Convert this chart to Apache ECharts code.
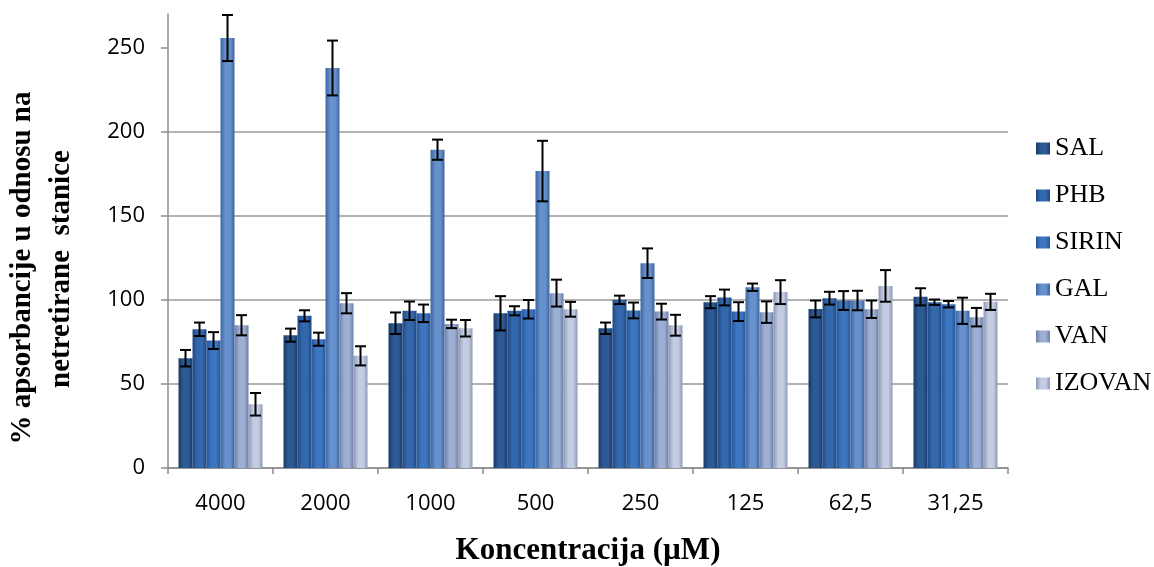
<!DOCTYPE html>
<html>
<head>
<meta charset="utf-8">
<script src="https://cdn.jsdelivr.net/npm/echarts@6/dist/echarts.min.js"></script>
<style>
  html, body { margin: 0; padding: 0; background: #fff; }
  #chart { width: 1154px; height: 567px; }
</style>
</head>
<body>
<div id="chart"></div>
<script>
var categories = ['4000', '2000', '1000', '500', '250', '125', '62,5', '31,25'];
var seriesNames = ['SAL', 'PHB', 'SIRIN', 'GAL', 'VAN', 'IZOVAN'];

var SAL    = [65.3, 79.0, 86.1, 92.0, 83.1, 98.6, 94.6, 101.8];
var PHB    = [82.5, 90.5, 93.5, 93.5, 100.0, 101.4, 101.0, 98.6];
var SIRIN  = [75.8, 76.6, 92.0, 94.4, 93.7, 93.0, 99.6, 97.4];
var GAL    = [255.7, 237.9, 189.3, 176.6, 121.8, 107.5, 99.6, 93.5];
var VAN    = [84.9, 98.0, 85.7, 104.0, 93.0, 92.7, 94.4, 89.7];
var IZOVAN = [37.9, 66.7, 83.1, 94.4, 84.9, 104.6, 108.3, 98.8];

var SAL_err    = [4.9, 3.9, 6.4, 10.2, 3.4, 3.6, 5.0, 5.1];
var PHB_err    = [4.0, 3.3, 5.5, 2.7, 2.5, 4.7, 3.8, 1.6];
var SIRIN_err  = [5.0, 3.9, 5.2, 5.5, 4.7, 5.6, 5.6, 1.9];
var GAL_err    = [13.7, 16.3, 6.0, 18.0, 8.8, 2.2, 5.8, 7.8];
var VAN_err    = [6.0, 6.0, 2.5, 8.0, 4.7, 6.4, 5.2, 5.5];
var IZOVAN_err = [6.7, 5.7, 4.9, 4.4, 6.2, 7.1, 9.4, 4.8];

var yTicks = [0, 50, 100, 150, 200, 250];

var values = [SAL, PHB, SIRIN, GAL, VAN, IZOVAN];
var errors = [SAL_err, PHB_err, SIRIN_err, GAL_err, VAN_err, IZOVAN_err];

// edge / middle colours for the shaded bars
var shades = [
  ['#1a3a66', '#2d5a95'],
  ['#1f4882', '#3468ad'],
  ['#25569a', '#3d76bf'],
  ['#3d659f', '#6791cd'],
  ['#6d7fa6', '#9dafd3'],
  ['#8e99b5', '#c3cce2']
];

function barColor(i) {
  return new echarts.graphic.LinearGradient(0, 0, 1, 0, [
    { offset: 0, color: shades[i][0] },
    { offset: 0.35, color: shades[i][1] },
    { offset: 0.7, color: shades[i][1] },
    { offset: 1, color: shades[i][0] }
  ]);
}

var chart = echarts.init(document.getElementById('chart'));

var series = seriesNames.map(function (name, i) {
  return {
    name: name,
    type: 'bar',
    barGap: '0%',
    barCategoryGap: '20%',
    itemStyle: { color: barColor(i) },
    data: values[i]
  };
});

var errData = [];
values.forEach(function (arr, s) {
  arr.forEach(function (v, c) {
    errData.push([c, s, v, errors[s][c]]);
  });
});

series.push({
  type: 'custom',
  name: 'err',
  z: 10,
  silent: true,
  encode: { x: 0, y: 2 },
  data: errData,
  renderItem: function (params, api) {
    var c = api.value(0), s = api.value(1), v = api.value(2), e = api.value(3);
    var band = api.size([1, 0])[0];
    var barW = band * 0.8 / seriesNames.length;
    var base = api.coord([c, v]);
    var x = base[0] - band * 0.4 + barW * (s + 0.5);
    var top = api.coord([c, v + e])[1];
    var bot = api.coord([c, v - e])[1];
    var cap = 5.5;
    var st = { stroke: '#000', lineWidth: 2 };
    return {
      type: 'group',
      children: [
        { type: 'line', shape: { x1: x, y1: top, x2: x, y2: bot }, style: st },
        { type: 'line', shape: { x1: x - cap, y1: top, x2: x + cap, y2: top }, style: st },
        { type: 'line', shape: { x1: x - cap, y1: bot, x2: x + cap, y2: bot }, style: st }
      ]
    };
  }
});

var option = {
  animation: false,
  grid: { left: 168, right: 146, top: 14, bottom: 99 },
  legend: {
    data: seriesNames,
    orient: 'vertical',
    left: 1031,
    top: 130,
    itemWidth: 14,
    itemHeight: 12,
    itemGap: 20,
    icon: 'rect',
    textStyle: { fontFamily: 'Liberation Serif', fontSize: 26, color: '#000', lineHeight: 27 }
  },
  xAxis: {
    type: 'category',
    data: categories,
    axisLine: { lineStyle: { color: '#8c8c8c', width: 1.5 } },
    axisTick: { show: true, length: 6, lineStyle: { color: '#8c8c8c', width: 1.5 } },
    axisLabel: { fontFamily: 'Open Sans', fontSize: 22, color: '#000', margin: 25 }
  },
  yAxis: {
    type: 'value',
    min: 0,
    max: 270,
    interval: 50,
    axisLine: { show: true, lineStyle: { color: '#8c8c8c', width: 1.5 } },
    axisTick: { show: true, length: 7, customValues: yTicks, lineStyle: { color: '#8c8c8c', width: 1.5 } },
    axisLabel: { fontFamily: 'Open Sans', fontSize: 22, color: '#000', margin: 23, customValues: yTicks },
    splitLine: { show: true, showMaxLine: false, lineStyle: { color: '#9a9a9a', width: 1.5 } }
  },
  graphic: [
    {
      type: 'text', x: 23, y: 268, rotation: Math.PI / 2,
      style: { text: '% apsorbancije u odnosu na', fontFamily: 'Liberation Serif', fontWeight: 'bold',
        fontSize: 29, fill: '#000', textAlign: 'center', textVerticalAlign: 'middle' }
    },
    {
      type: 'text', x: 62, y: 269, rotation: Math.PI / 2,
      style: { text: 'netretirane  stanice', fontFamily: 'Liberation Serif', fontWeight: 'bold',
        fontSize: 29, fill: '#000', textAlign: 'center', textVerticalAlign: 'middle' }
    },
    {
      type: 'text', x: 588, y: 551,
      style: { text: 'Koncentracija (µM)', fontFamily: 'Liberation Serif', fontWeight: 'bold',
        fontSize: 31, fill: '#000', textAlign: 'center', textVerticalAlign: 'middle' }
    }
  ],
  series: series
};

chart.setOption(option);
window.addEventListener('resize', chart.resize);
</script>
</body>
</html>
